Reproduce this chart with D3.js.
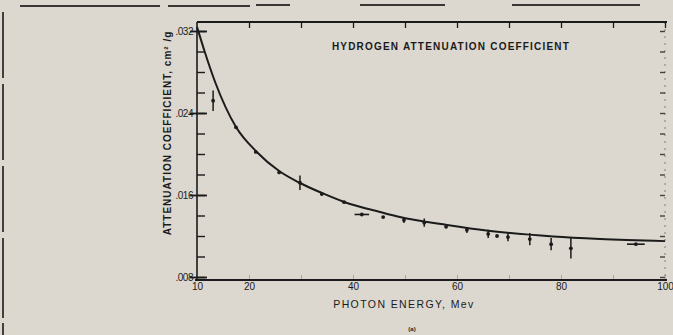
<!DOCTYPE html>
<html>
<head>
<meta charset="utf-8">
<script src="https://cdn.jsdelivr.net/npm/d3@7/dist/d3.min.js"></script>
<style>
  html, body { margin: 0; padding: 0; background: #dcd8cf; }
  svg { display: block; }
  text { font-family: "Liberation Sans", "DejaVu Sans", sans-serif; fill: #1b1b1b; }
</style>
</head>
<body>
<svg id="chart" width="673" height="335"></svg>
<script>
// Photon energy (MeV) and fitted attenuation curve (cm^2/g)
const curveEnergy = [10, 11.5, 13.5, 17.5, 21.5, 25.8, 29.8, 34, 38.3, 45.2, 49, 58.1, 66.4, 78.5, 87.5, 100];
const curveCoeff  = [0.0324, 0.02995, 0.0270, 0.02263, 0.0202, 0.01834, 0.01717, 0.0162, 0.01532, 0.01434, 0.01385, 0.01307, 0.01249, 0.01195, 0.01171, 0.0115];

// Measured points: energy, coefficient, vertical error, horizontal error
const ptEnergy = [13.1, 17.5, 21.3, 25.8, 29.8, 34.0, 38.3, 41.7, 45.8, 49.8, 53.7, 57.9, 61.9, 66.0, 67.7, 69.8, 74.0, 78.1, 81.9, 94.4];
const ptCoeff  = [0.0252, 0.0226, 0.0202, 0.0182, 0.0172, 0.0161, 0.0153, 0.0141, 0.01385, 0.01356, 0.0133, 0.0129, 0.01259, 0.0122, 0.0120, 0.0119, 0.0117, 0.0112, 0.0108, 0.0112];
const ptErrY   = [0.0010, 0, 0, 0, 0.0007, 0, 0, 0, 0, 0.0003, 0.0004, 0, 0.0003, 0.0004, 0, 0.0004, 0.0006, 0.0006, 0.0010, 0];
const ptErrX   = [0, 0, 0, 0, 0, 0, 0, 1.4, 0, 0, 0, 0, 0, 0, 0, 0, 0, 0, 0, 1.7];

// Axis ticks and labels
const xTickValues = [10, 20, 40, 60, 80, 100];
const xTickLabels = ["10", "20", "40", "60", "80", "100"];
const xMinorTicks = [20, 30, 40, 50, 60, 70, 80, 90, 100];
const yMajorTicks = [0.008, 0.016, 0.024, 0.032];
const yTickLabels = [".008", ".016", ".024", ".032"];
const yMinorTicks = [0.008, 0.010, 0.012, 0.014, 0.016, 0.018, 0.020, 0.022, 0.024, 0.026, 0.028, 0.030, 0.032];

const svg = d3.select("#chart");
const ink = "#1b1b1b";

const plot = { left: 197, right: 665, top: 22, bottom: 280 };
const x = d3.scaleLinear().domain([10, 100]).range([197, 665]);
const y = d3.scaleLinear().domain([0.008, 0.032]).range([277, 31]);

// page border rules
const border = svg.append("g").attr("stroke", ink).attr("fill", "none");
[[3, 12, 3, 78], [3, 84, 3, 160], [3, 166, 3, 232], [3, 238, 3, 318], [3, 323, 3, 335]]
  .forEach(s => border.append("line").attr("x1", s[0]).attr("y1", s[1]).attr("x2", s[2]).attr("y2", s[3]).attr("stroke-width", 1.6));
[[20, 6, 160, 6], [168, 6, 250, 6], [256, 5, 290, 5], [360, 5, 445, 5], [512, 5, 640, 5]]
  .forEach(s => border.append("line").attr("x1", s[0]).attr("y1", s[1]).attr("x2", s[2]).attr("y2", s[3]).attr("stroke-width", 2).attr("stroke-opacity", 0.85));

// frame lines
svg.append("line").attr("x1", plot.left).attr("x2", plot.right + 2).attr("y1", plot.top).attr("y2", plot.top)
  .attr("stroke", ink).attr("stroke-width", 2);
svg.append("line").attr("x1", plot.left - 2).attr("x2", plot.right + 2).attr("y1", plot.bottom).attr("y2", plot.bottom)
  .attr("stroke", ink).attr("stroke-width", 2.2);
svg.append("line").attr("x1", plot.left).attr("x2", plot.left).attr("y1", plot.top).attr("y2", plot.bottom)
  .attr("stroke", ink).attr("stroke-width", 1.6);
svg.append("line").attr("x1", plot.right).attr("x2", plot.right).attr("y1", plot.top).attr("y2", plot.bottom)
  .attr("stroke", ink).attr("stroke-width", 0.8).attr("stroke-dasharray", "2 5").attr("stroke-opacity", 0.6);

// top axis ticks pointing down
const topAxis = svg.append("g").attr("transform", `translate(0,${plot.top})`)
  .call(d3.axisBottom(x).tickValues(xMinorTicks).tickSize(6).tickFormat(""));
topAxis.select(".domain").remove();
topAxis.selectAll("line").attr("stroke", ink).attr("stroke-width", 1.3);

// bottom axis: faint inward ticks plus labels
const botMinor = svg.append("g").attr("transform", `translate(0,${plot.bottom})`)
  .call(d3.axisTop(x).tickValues(xMinorTicks).tickSize(5).tickFormat(""));
botMinor.select(".domain").remove();
botMinor.selectAll("line").attr("stroke", ink).attr("stroke-width", 1).attr("stroke-opacity", 0.25);

const botAxis = svg.append("g").attr("transform", `translate(0,${plot.bottom})`)
  .call(d3.axisBottom(x).tickValues(xTickValues).tickSize(0).tickPadding(3)
    .tickFormat((d, i) => xTickLabels[i]));
botAxis.select(".domain").remove();
botAxis.selectAll("text").attr("font-size", 10).attr("fill", ink);

// left axis: minor ticks inward, major ticks across with labels
const leftMinor = svg.append("g").attr("transform", `translate(${plot.left},0)`)
  .call(d3.axisRight(y).tickValues(yMinorTicks).tickSize(8).tickFormat(""));
leftMinor.select(".domain").remove();
leftMinor.selectAll("line").attr("stroke", ink).attr("stroke-width", 1.4);

const leftMajor = svg.append("g").attr("transform", `translate(${plot.left + 10},0)`)
  .call(d3.axisLeft(y).tickValues(yMajorTicks).tickSize(17).tickPadding(-3)
    .tickFormat((d, i) => yTickLabels[i]));
leftMajor.select(".domain").remove();
leftMajor.selectAll("line").attr("stroke", ink).attr("stroke-width", 1.8);
leftMajor.selectAll("text").attr("font-size", 10).attr("fill", ink).attr("letter-spacing", -0.5);

// right axis ticks pointing inward
const rightAxis = svg.append("g").attr("transform", `translate(${plot.right},0)`)
  .call(d3.axisLeft(y).tickValues(yMinorTicks).tickSize(5).tickFormat(""));
rightAxis.select(".domain").remove();
rightAxis.selectAll("line").attr("stroke", ink).attr("stroke-width", 1.4).attr("stroke-opacity", 0.8);

// fitted curve
const line = d3.line().x((d, i) => x(curveEnergy[i])).y(d => y(d)).curve(d3.curveMonotoneX);
svg.append("path").datum(curveCoeff).attr("d", line)
  .attr("fill", "none").attr("stroke", ink).attr("stroke-width", 2);

// measured points with error bars
const pts = svg.append("g").attr("stroke", ink).attr("fill", ink);
ptEnergy.forEach((e, i) => {
  const cx = x(e), cy = y(ptCoeff[i]);
  if (ptErrY[i] > 0) {
    pts.append("line").attr("x1", cx).attr("x2", cx)
      .attr("y1", y(ptCoeff[i] + ptErrY[i])).attr("y2", y(ptCoeff[i] - ptErrY[i]))
      .attr("stroke-width", 1.5);
  }
  if (ptErrX[i] > 0) {
    pts.append("line").attr("x1", x(e - ptErrX[i])).attr("x2", x(e + ptErrX[i]))
      .attr("y1", cy).attr("y2", cy).attr("stroke-width", 1.6);
  }
  pts.append("circle").attr("cx", cx).attr("cy", cy).attr("r", 1.9).attr("stroke", "none");
});

// titles
svg.append("text").attr("x", 451).attr("y", 50).attr("text-anchor", "middle")
  .attr("font-size", 10).attr("letter-spacing", 1.2).attr("font-weight", "bold")
  .text("HYDROGEN ATTENUATION COEFFICIENT");

svg.append("text").attr("x", 404).attr("y", 308).attr("text-anchor", "middle")
  .attr("font-size", 10.5).attr("letter-spacing", 1.4)
  .text("PHOTON ENERGY, Mev");

svg.append("text").attr("x", 412).attr("y", 331).attr("text-anchor", "middle")
  .attr("font-size", 6).attr("font-weight", "bold").text("(a)");

svg.append("text").attr("transform", "translate(171,133) rotate(-90)").attr("text-anchor", "middle")
  .attr("font-size", 10).attr("font-weight", "bold").attr("letter-spacing", 1)
  .text("ATTENUATION COEFFICIENT, cm² /g");
</script>
</body>
</html>
